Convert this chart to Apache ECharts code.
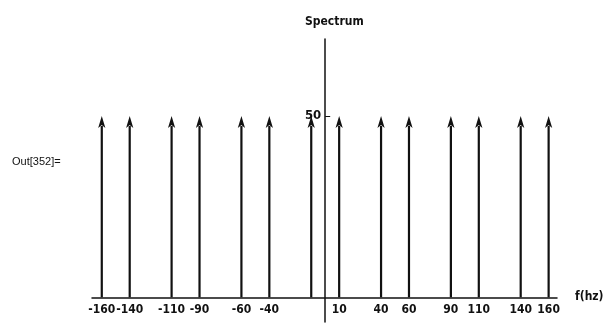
<!DOCTYPE html>
<html>
<head>
<meta charset="utf-8">
<script src="https://cdn.jsdelivr.net/npm/echarts@6/dist/echarts.min.js"></script>
<style>
html,body{margin:0;padding:0;background:#fff;}
#main{width:605px;height:323px;}
</style>
</head>
<body>
<div id="main"></div>
<script>
var frequencies = [-160, -140, -110, -90, -60, -40, -10, 10, 40, 60, 90, 110, 140, 160];
var amplitudes  = [50, 50, 50, 50, 50, 50, 50, 50, 50, 50, 50, 50, 50, 50];
var xTickLabels = [-160, -140, -110, -90, -60, -40, 10, 40, 60, 90, 110, 140, 160];
var yTickLabels = [50];

var chart = echarts.init(document.getElementById('main'), null, {renderer: 'canvas'});
var FONT = "'Liberation Sans Narrow', 'DejaVu Sans Condensed', sans-serif";
var data = frequencies.map(function (f, i) { return [f, amplitudes[i]]; });

var GRID = {left: 92, right: 48, top: 39, bottom: 1};
var X_MIN = -167, X_MAX = 166, Y_MIN = -6.8, Y_MAX = 71.2;
var W = 605 - GRID.left - GRID.right, H = 323 - GRID.top - GRID.bottom;
// offsets that move the axes onto the zero lines (labels follow the axis)
var xOffset = -(0 - Y_MIN) / (Y_MAX - Y_MIN) * H;
var yOffset = -(0 - X_MIN) / (X_MAX - X_MIN) * W;

chart.setOption({
  animation: false,
  backgroundColor: '#fff',
  title: {
    text: 'Spectrum',
    left: 300, top: 11,
    textStyle: {fontFamily: FONT, fontWeight: 'bold', fontSize: 12, color: '#111'}
  },
  graphic: [{
    type: 'text', left: 12, top: 156,
    style: {text: 'Out[352]=', fontFamily: "'Liberation Sans', Arial, sans-serif", fontSize: 11, fill: '#111'}
  }],
  grid: {left: GRID.left, right: GRID.right, top: GRID.top, bottom: GRID.bottom, containLabel: false, outerBoundsMode: 'none'},
  xAxis: {
    type: 'value', min: X_MIN, max: X_MAX,
    position: 'bottom', offset: xOffset,
    name: 'f(hz)', nameLocation: 'end', nameGap: 18,
    nameTextStyle: {fontFamily: FONT, fontWeight: 'bold', fontSize: 12, color: '#111', verticalAlign: 'middle'},
    axisLine: {onZero: false, lineStyle: {color: '#111', width: 1.5}},
    axisTick: {show: false},
    splitLine: {show: false},
    axisLabel: {
      customValues: xTickLabels,
      margin: 7, hideOverlap: false, showMinLabel: true, showMaxLabel: true,
      fontFamily: FONT, fontWeight: 'bold', fontSize: 12, color: '#111'
    }
  },
  yAxis: {
    type: 'value', min: Y_MIN, max: Y_MAX,
    position: 'left', offset: yOffset,
    axisLine: {onZero: false, lineStyle: {color: '#111', width: 1.5}},
    axisTick: {show: true, inside: true, length: 5, customValues: yTickLabels, lineStyle: {color: '#111', width: 1}},
    splitLine: {show: false},
    axisLabel: {
      customValues: yTickLabels, margin: 4, hideOverlap: false,
      fontFamily: FONT, fontWeight: 'bold', fontSize: 13, color: '#111'
    }
  },
  series: [{
    type: 'custom',
    data: data,
    encode: {x: 0, y: 1},
    renderItem: function (params, api) {
      var f = api.value(0), a = api.value(1);
      var base = api.coord([f, 0]);
      var tip = api.coord([f, a]);
      var headLen = 12, headW = 3.6;
      return {
        type: 'group',
        children: [{
          type: 'line',
          shape: {x1: base[0], y1: base[1], x2: tip[0], y2: tip[1] + headLen - 2},
          style: {stroke: '#111', lineWidth: 2.2}
        }, {
          type: 'polygon',
          shape: {points: [[tip[0], tip[1]], [tip[0] - headW, tip[1] + headLen], [tip[0], tip[1] + headLen - 3], [tip[0] + headW, tip[1] + headLen]]},
          style: {fill: '#111'}
        }]
      };
    }
  }]
});
</script>
</body>
</html>
